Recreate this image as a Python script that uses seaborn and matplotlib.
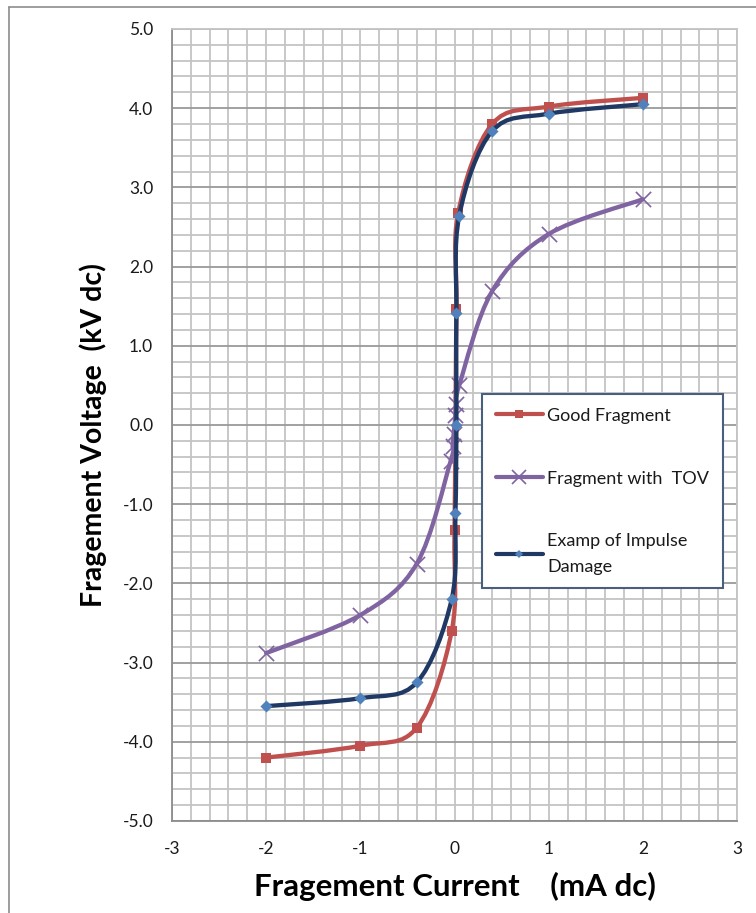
# Fragment V-I characteristic chart, redrawn with seaborn + matplotlib
import numpy as np
import matplotlib
matplotlib.use("Agg")
import matplotlib.pyplot as plt
import seaborn as sns
from matplotlib.path import Path
from matplotlib.patches import PathPatch
from matplotlib.lines import Line2D
from matplotlib.ticker import MultipleLocator, FormatStrFormatter

# Values (current in mA dc, voltage in kV dc)
good_x = [-2, -1, -0.4, -0.03, 0.0, 0.02, 0.04, 0.4, 1, 2]
good_y = [-4.2, -4.05, -3.82, -2.6, -1.32, 1.46, 2.68, 3.8, 4.02, 4.13]

tov_x = [-2, -1, -0.4, -0.04, -0.02, -0.01, 0.01, 0.02, 0.05, 0.4, 1, 2]
tov_y = [-2.88, -2.4, -1.75, -0.45, -0.27, -0.12, 0.12, 0.27, 0.5, 1.69, 2.41, 2.85]

imp_x = [-2, -1, -0.4, -0.03, 0.01, 0.02, 0.02, 0.05, 0.4, 1, 2]
imp_y = [-3.55, -3.45, -3.25, -2.2, -1.11, 0.0, 1.41, 2.64, 3.71, 3.93, 4.05]

labels = ["Good Fragment", "Fragment with  TOV", "Examp of Impulse\nDamage"]

RED = "#C0504D"
PURPLE = "#8064A2"
NAVY = "#1F3864"
BLUE = "#4F81BD"


# Excel style smoothed line: cubic bezier segments through the data points
def smooth_path(xs, ys):
    pts = np.column_stack([xs, ys]).astype(float)
    n = len(pts)
    verts = [pts[0]]
    codes = [Path.MOVETO]
    for i in range(n - 1):
        p0 = pts[i - 1] if i > 0 else pts[i]
        p1 = pts[i]
        p2 = pts[i + 1]
        p3 = pts[i + 2] if i + 2 < n else pts[i + 1]
        verts += [p1 + (p2 - p0) / 6, p2 - (p3 - p1) / 6, p2]
        codes += [Path.CURVE4] * 3
    return Path(verts, codes)


sns.set_style("white")
plt.rcParams["font.family"] = ["Lato", "DejaVu Sans"]
plt.rcParams["axes.unicode_minus"] = False

fig = plt.figure(figsize=(7.56, 9.13), dpi=100)
ax = fig.add_axes([0.2275, 0.1008, 0.7474, 0.8675])

# series: line first, then its markers
series = [
    (good_x, good_y, RED, RED, "s", 45, 0),
    (tov_x, tov_y, PURPLE, PURPLE, "x", 120, 1.2),
    (imp_x, imp_y, NAVY, BLUE, "D", 38, 0),
]
z = 3
for xs, ys, lcol, mcol, mk, size, mlw in series:
    ax.add_patch(PathPatch(smooth_path(xs, ys), facecolor="none", edgecolor=lcol,
                           lw=3.1, capstyle="round", joinstyle="round", zorder=z))
    sns.scatterplot(x=xs, y=ys, marker=mk, color=mcol, s=size, linewidth=mlw,
                    ax=ax, zorder=z + 1, legend=False)
    z += 2

ax.set_xlim(-3, 3)
ax.set_ylim(-5, 5)
ax.xaxis.set_major_locator(MultipleLocator(1))
ax.xaxis.set_minor_locator(MultipleLocator(0.2))
ax.yaxis.set_major_locator(MultipleLocator(1))
ax.yaxis.set_minor_locator(MultipleLocator(0.2))
ax.yaxis.set_major_formatter(FormatStrFormatter("%.1f"))

# grid: light minor lines, darker horizontal majors
ax.grid(which="minor", color="#C4C4C4", lw=1.3)
ax.grid(which="major", axis="x", color="#C4C4C4", lw=1.3)
ax.grid(which="major", axis="y", color="#9A9A9A", lw=1.3)
ax.set_axisbelow(True)

for side in ["top", "right"]:
    ax.spines[side].set_color("#C4C4C4")
    ax.spines[side].set_linewidth(1.3)
for side in ["left", "bottom"]:
    ax.spines[side].set_color("#8C8C8C")
    ax.spines[side].set_linewidth(1.3)

ax.tick_params(which="major", direction="out", length=4.5, width=1, color="#8C8C8C",
               labelsize=12.5, labelcolor="#1a1a1a")
ax.tick_params(axis="y", pad=9)
ax.tick_params(axis="x", pad=10)
ax.tick_params(which="minor", length=0)

ax.set_xlabel("Fragement Current    (mA dc)", fontsize=22.5, fontweight="bold",
              color="black", va="center")
ax.xaxis.set_label_coords(0.501, -0.0833)
ax.set_ylabel("Fragement Voltage  (kV dc)", fontsize=20.5, fontweight="bold",
              color="black", va="center")
ax.yaxis.set_label_coords(-0.14, 0.487)

handles = [
    Line2D([], [], color=RED, lw=3, marker="s", markersize=6, markerfacecolor=RED, markeredgewidth=0),
    Line2D([], [], color=PURPLE, lw=3, marker="x", markersize=10, markeredgecolor=PURPLE, markeredgewidth=1.2),
    Line2D([], [], color=NAVY, lw=3, marker="D", markersize=4.5, markerfacecolor=BLUE, markeredgewidth=0),
]
leg = ax.legend(handles, labels, loc="upper left", bbox_to_anchor=(0.549, 0.539),
                fontsize=13, frameon=True, fancybox=False, labelspacing=2.6,
                handlelength=2.6, handletextpad=0.25, borderpad=0.75, borderaxespad=0)
leg.get_frame().set_edgecolor("#4A5F7E")
leg.get_frame().set_linewidth(1.5)
leg.get_frame().set_facecolor("white")
leg.get_frame().set_alpha(1)
for t in leg.get_texts():
    t.set_color("#1a1a1a")
    t.set_linespacing(1.7)

# chart area border (left and top edges visible in the reference)
fig.add_artist(Line2D([0.012, 0.012], [0, 0.992], transform=fig.transFigure,
                      color="#8C8C8C", lw=1.2))
fig.add_artist(Line2D([0.012, 1], [0.992, 0.992], transform=fig.transFigure,
                      color="#8C8C8C", lw=1.2))

fig.savefig("out.png", dpi=100)
